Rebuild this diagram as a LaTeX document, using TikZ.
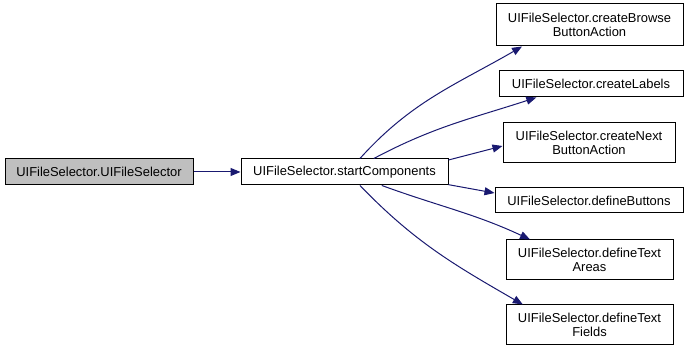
\documentclass[tikz,border=0pt]{standalone}
\usepackage{fontspec}
\setmainfont{Liberation Sans}
\usetikzlibrary{arrows.meta}
\definecolor{edgeblue}{HTML}{191970}
\definecolor{rootgray}{HTML}{BFBFBF}
\begin{document}
\begin{tikzpicture}[x=0.75pt,y=0.75pt,>={Triangle[length=7.5pt,width=6pt]},
  fn/.style={draw=black,line width=0.75pt,inner sep=0pt,align=center,
    font=\fontsize{9.7}{10.8}\selectfont,minimum height=19.5pt},
  call/.style={->,draw=edgeblue,line width=0.75pt}]
\useasboundingbox (0,0) rectangle (688,352);
% caller and the method it calls
\node[fn,fill=rootgray,minimum width=141pt](ctor) at (99,180){UIFileSelector.UIFileSelector};
\node[fn,minimum width=155.25pt](start) at (344.5,180){UIFileSelector.startComponents};
% methods called from startComponents
\node[fn,minimum width=140.25pt,minimum height=31.5pt](browse) at (589.5,327){UIFileSelector.createBrowse\\ButtonAction};
\node[fn,minimum width=138pt](labels) at (591,268){UIFileSelector.createLabels};
\node[fn,minimum width=129pt,minimum height=30pt](next) at (589,209){UIFileSelector.createNext\\ButtonAction};
\node[fn,minimum width=141pt,minimum height=18.75pt](buttons) at (589,151.5){UIFileSelector.defineButtons};
\node[fn,minimum width=125.25pt,minimum height=30pt](areas) at (589.5,92){UIFileSelector.defineText\\Areas};
\node[fn,minimum width=125.25pt,minimum height=30pt](fields) at (589.5,27){UIFileSelector.defineText\\Fields};
\draw[call](ctor)--(start);
\draw[call]([xshift=11.6pt]start.north) to[out=48,in=210] ([xshift=-50.6pt]browse.south);
\draw[call]([xshift=22pt]start.north) to[out=28,in=198] ([xshift=-41pt]labels.south);
\draw[call]([yshift=9pt]start.east)--([yshift=-2.25pt]next.west);
\draw[call]([yshift=-9.5pt]start.east)--([yshift=5.6pt]buttons.west);
\draw[call]([xshift=28pt]start.south) to[out=-20,in=155] ([xshift=-44.6pt]areas.north);
\draw[call]([xshift=11.6pt]start.south) to[out=-46,in=150] ([xshift=-50pt]fields.north);
\end{tikzpicture}
\end{document}
